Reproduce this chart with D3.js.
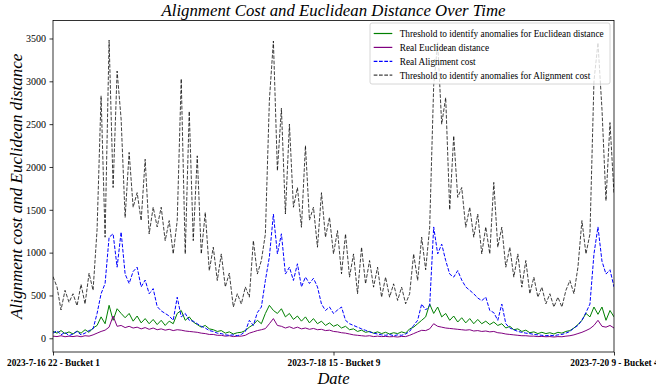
<!DOCTYPE html>
<html>
<head>
<meta charset="utf-8">
<script src="https://cdn.jsdelivr.net/npm/d3@7"></script>
<style>
  body { margin: 0; background: #fff; }
  svg { display: block; font-family: "Liberation Serif", "DejaVu Serif", serif; }
</style>
</head>
<body>
<div id="chart"></div>
<script>
// Tick labels on x (categorical, by index)
const xTickIdx = [0, 70, 140];
const xTickLabels = ["2023-7-16 22 - Bucket 1", "2023-7-18 15 - Bucket 9", "2023-7-20 9 - Bucket 4"];
const yTicks = [0, 500, 1000, 1500, 2000, 2500, 3000, 3500];

// Threshold to identify anomalies for Euclidean distance
const thrEuclid = [80,60,90,55,75,50,85,60,100,70,120,150,250,170,385,210,345,290,240,290,
  200,260,180,230,170,220,160,210,150,200,170,290,325,210,250,190,160,130,150,110,
  100,80,90,60,75,50,65,70,90,130,160,210,170,290,385,325,290,345,250,290,
  220,260,200,250,180,230,170,200,150,180,140,160,120,140,100,110,80,95,70,80,
  60,75,55,70,50,65,55,75,60,110,130,170,210,250,400,290,365,250,290,210,
  260,190,240,180,230,170,220,170,200,160,190,150,170,120,140,100,110,80,95,65,
  75,55,70,55,65,50,70,60,80,90,120,160,210,290,250,365,280,365,210,325,250];

// Real Euclidean distance
const realEuclid = [25,20,30,18,25,20,28,18,30,25,40,60,80,95,130,260,140,150,125,140,
  120,130,110,125,105,120,100,110,95,105,90,100,95,85,80,75,70,60,55,45,
  45,35,35,25,30,20,25,25,35,60,75,90,100,113,170,230,150,140,120,135,
  115,130,110,120,105,115,100,105,90,95,80,75,65,60,50,40,35,30,25,30,
  20,25,20,22,18,20,15,22,20,35,55,75,93,90,110,170,140,130,120,115,
  110,105,100,95,100,85,90,80,85,75,80,65,60,50,45,40,35,30,30,25,
  25,20,22,18,20,15,20,18,25,30,40,55,70,90,113,150,210,140,130,150,120];

// Real Alignment cost
const realAlign = [60,90,40,70,30,50,80,40,60,90,110,290,520,640,1180,1220,830,1240,750,640,
  780,830,600,680,520,580,370,320,290,260,210,480,250,290,210,200,170,140,120,90,
  80,60,55,40,35,40,30,45,80,210,150,300,365,675,950,1450,985,1220,750,830,
  675,870,600,715,640,700,600,400,325,365,290,330,365,210,170,150,130,110,93,75,
  60,50,40,35,45,30,40,35,50,80,150,210,400,330,380,1300,985,1100,908,750,
  714,790,680,600,560,520,470,440,480,325,300,210,400,170,120,100,80,70,60,55,
  45,40,35,30,35,30,40,45,60,80,120,150,210,300,400,985,1300,900,750,800,600];

// Threshold to identify anomalies for Alignment cost
const thrAlign = [720,600,330,560,420,520,380,630,400,760,560,1270,2830,1180,3480,1760,3120,2560,1410,2170,
  1530,1700,1374,2090,1218,1530,1300,1530,1140,1374,985,1374,3030,985,2650,1140,2130,985,1470,790,
  1063,675,985,600,760,365,520,400,600,480,1140,750,908,1218,2780,3470,1956,2685,1451,2500,
  1530,1760,1296,2250,1380,1530,1063,1700,1180,1412,985,1257,753,1218,714,985,520,1063,636,908,
  597,830,480,714,480,636,442,597,403,520,985,675,1180,800,1296,2950,3450,2500,2810,1500,
  2363,1645,1760,1296,1530,1180,1451,985,1300,985,1820,1063,1296,830,1063,714,985,597,908,520,
  714,480,597,403,520,365,480,365,560,675,520,830,1374,985,1218,3003,3450,2673,1606,2518,1684];

const series = [
  { name: "Threshold to identify anomalies for Euclidean distance", values: thrEuclid, color: "#008000", dash: null, opacity: 1 },
  { name: "Real Euclidean distance", values: realEuclid, color: "#800080", dash: null, opacity: 1 },
  { name: "Real Alignment cost", values: realAlign, color: "#0000ff", dash: "3.7,1.6", opacity: 1 },
  { name: "Threshold to identify anomalies for Alignment cost", values: thrAlign, color: "#000000", dash: "3.7,1.6", opacity: 0.75 },
];

const width = 656, height = 389;
const mLeft = 53, mRight = 614, mTop = 20.5, mBottom = 352;

const svg = d3.select("#chart").append("svg")
  .attr("width", width)
  .attr("height", height);

const x = d3.scaleLinear()
  .domain([0, thrAlign.length - 1])
  .range([mLeft, mRight]);

const y = d3.scaleLinear()
  .domain([-160, 3710])
  .range([mBottom, mTop]);

svg.append("clipPath").attr("id", "plotclip")
  .append("rect")
  .attr("x", mLeft).attr("y", mTop)
  .attr("width", mRight - mLeft).attr("height", mBottom - mTop);

// Lines
const line = d3.line()
  .x((d, i) => x(i))
  .y(d => y(d));

const plot = svg.append("g").attr("clip-path", "url(#plotclip)");
series.forEach(s => {
  plot.append("path")
    .datum(s.values)
    .attr("fill", "none")
    .attr("stroke", s.color)
    .attr("stroke-width", 1)
    .attr("stroke-opacity", s.opacity)
    .attr("stroke-dasharray", s.dash)
    .attr("stroke-linejoin", "round")
    .attr("d", line);
});

// Frame
svg.append("rect")
  .attr("x", mLeft).attr("y", mTop)
  .attr("width", mRight - mLeft).attr("height", mBottom - mTop)
  .attr("fill", "none")
  .attr("stroke", "#000")
  .attr("stroke-width", 0.8);

// Y axis
const yAxis = svg.append("g")
  .attr("transform", "translate(" + mLeft + ",0)")
  .call(d3.axisLeft(y).tickValues(yTicks).tickSize(3.5).tickPadding(3.5).tickFormat(d3.format("d")));
yAxis.select(".domain").remove();
yAxis.selectAll("text")
  .attr("font-family", "Liberation Serif")
  .attr("font-size", 10)
  .attr("fill", "#000");
yAxis.selectAll("line").attr("stroke-width", 0.8);

// X axis
const xAxis = svg.append("g")
  .attr("transform", "translate(0," + mBottom + ")")
  .call(d3.axisBottom(x).tickValues(xTickIdx).tickSize(3.5).tickPadding(3.5)
    .tickFormat((d, i) => xTickLabels[i]));
xAxis.select(".domain").remove();
xAxis.selectAll("text")
  .attr("font-family", "Liberation Serif")
  .attr("font-weight", "bold")
  .attr("font-size", 9.3)
  .attr("fill", "#000");
xAxis.selectAll("line").attr("stroke-width", 0.8);

// Title and axis labels
svg.append("text")
  .attr("x", (mLeft + mRight) / 2).attr("y", 16)
  .attr("text-anchor", "middle")
  .attr("font-style", "italic")
  .attr("font-size", 16.8)
  .text("Alignment Cost and Euclidean Distance Over Time");

svg.append("text")
  .attr("x", (mLeft + mRight) / 2).attr("y", 384)
  .attr("text-anchor", "middle")
  .attr("font-style", "italic")
  .attr("font-size", 16.5)
  .text("Date");

svg.append("text")
  .attr("transform", "translate(22," + ((mTop + mBottom) / 2) + ") rotate(-90)")
  .attr("text-anchor", "middle")
  .attr("font-style", "italic")
  .attr("font-size", 17)
  .text("Alignment cost and Euclidean distance");

// Legend
const lg = svg.append("g").attr("transform", "translate(370,23)");
lg.append("rect")
  .attr("width", 240).attr("height", 61)
  .attr("rx", 2)
  .attr("fill", "#fff").attr("fill-opacity", 0.8)
  .attr("stroke", "#ccc").attr("stroke-width", 0.8);
series.forEach((s, i) => {
  const ly = 10.5 + i * 13.9;
  lg.append("line")
    .attr("x1", 3.7).attr("x2", 22.3)
    .attr("y1", ly).attr("y2", ly)
    .attr("stroke", s.color)
    .attr("stroke-opacity", s.opacity)
    .attr("stroke-dasharray", s.dash)
    .attr("stroke-width", 1.2);
  lg.append("text")
    .attr("x", 29.7).attr("y", ly + 3.3)
    .attr("font-size", 9.3)
    .text(s.name);
});
</script>
</body>
</html>
